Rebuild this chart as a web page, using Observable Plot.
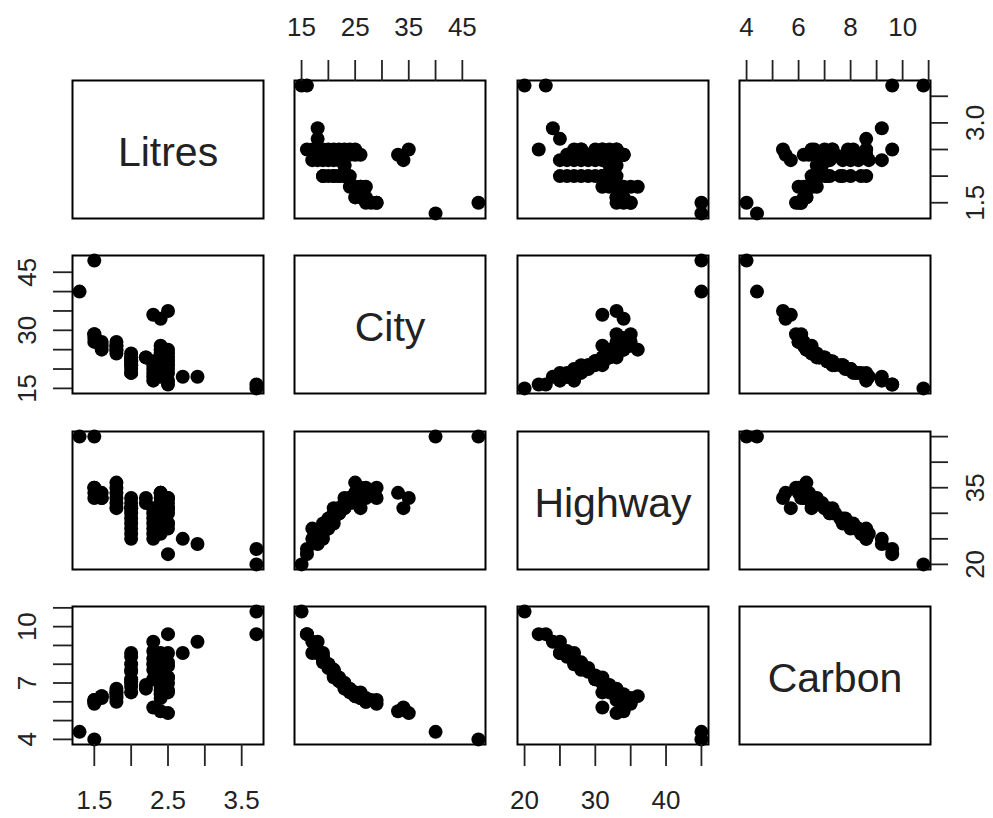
<!DOCTYPE html>
<html><head><meta charset="utf-8">
<script src="https://cdn.jsdelivr.net/npm/d3@7"></script>
<script src="https://cdn.jsdelivr.net/npm/@observablehq/plot@0.6"></script>
<style>
body{margin:0;background:#fff;}
#chart{position:relative;width:993px;height:818px;overflow:hidden;background:#fff;}
#chart svg{position:absolute;}
</style></head><body><div id="chart"></div>
<script>
// ---- data ----
const varNames = ["Litres", "City", "Highway", "Carbon"];
const litres  = [1.3,1.5,1.5,1.5,1.5,1.5,1.6,1.6,1.6,1.8,1.8,1.8,1.8,1.8,1.8,2.0,2.0,2.0,2.0,2.0,2.0,2.0,2.0,2.0,2.0,2.2,2.2,2.3,2.3,2.3,2.3,2.3,2.3,2.4,2.4,2.4,2.4,2.4,2.4,2.4,2.4,2.4,2.5,2.5,2.5,2.5,2.5,2.5,2.5,2.5,2.5,2.7,2.9,3.7,3.7,2.4,2.5,2.3];
const city    = [40,48,29,28,27,29,26,25,27,25,26,27,25,24,26,24,23,23,22,22,21,21,20,19,19,23,23,21,20,19,18,17,34,26,25,23,22,21,20,19,18,33,24,23,22,21,20,19,17,16,35,18,18,15,16,24,25,22];
const highway = [45,45,35,34,35,33,33,34,33,36,35,34,33,32,31,33,32,31,30,31,29,28,27,26,25,33,32,29,28,27,26,25,31,34,34,32,31,30,29,27,26,34,33,31,30,31,28,28,27,22,33,25,24,20,23,33,32,30];
const carbon  = [4.4,4.0,5.9,6.1,6.0,6.1,6.3,6.3,6.2,6.3,6.2,6.0,6.5,6.7,6.5,6.5,6.8,7.0,7.2,7.1,7.6,7.7,8.0,8.4,8.6,6.7,6.9,7.7,8.0,8.3,8.7,9.2,5.7,6.2,6.4,6.8,7.1,7.4,7.8,8.2,8.6,5.5,6.6,7.0,7.3,7.3,7.9,8.1,8.6,9.6,5.4,8.6,9.2,10.8,9.6,6.6,6.5,7.2];

// tick values and the tick labels that are printed
const litresTicks  = [1.5, 2.0, 2.5, 3.0, 3.5];
const cityTicks    = [15, 20, 25, 30, 35, 40, 45];
const highwayTicks = [20, 25, 30, 35, 40, 45];
const carbonTicks  = [4, 5, 6, 7, 8, 9, 10, 11];
const litresLabelsBottom = [1.5, 2.5, 3.5];
const litresLabelsRight  = [1.5, 3.0];
const cityLabelsTop      = [15, 25, 35, 45];
const cityLabelsLeft     = [15, 30, 45];
const highwayLabelsBottom = [20, 30, 40];
const highwayLabelsRight  = [20, 35];
const carbonLabelsTop    = [4, 6, 8, 10];
const carbonLabelsLeft   = [4, 7, 10];

const rows = litres.map((d, i) => ({Litres: d, City: city[i], Highway: highway[i], Carbon: carbon[i]}));
const series = {Litres: litres, City: city, Highway: highway, Carbon: carbon};
const ticks = [litresTicks, cityTicks, highwayTicks, carbonTicks];
const fmts = [d3.format(".1f"), d3.format("d"), d3.format("d"), d3.format("d")];
const labelsH = [litresLabelsBottom, cityLabelsTop, highwayLabelsBottom, carbonLabelsTop];
const labelsV = [litresLabelsRight, cityLabelsLeft, highwayLabelsRight, carbonLabelsLeft];

// R-style domain: range extended by 4% on each side
function domainOf(name) {
  const [a, b] = d3.extent(series[name]);
  const p = (b - a) * 0.04;
  return [a - p, b + p];
}

// ---- layout ----
const colX = [72, 294, 517, 739];
const rowY = [80, 255, 431, 606];
const PW = 191, PH = 138, M = 90;
const FONT = "'Liberation Sans', Arial, Helvetica, sans-serif";
const FS = 26;
const chart = document.getElementById("chart");

for (let i = 0; i < 4; i++) {
  for (let j = 0; j < 4; j++) {
    const xv = varNames[j], yv = varNames[i];
    const marks = [];
    if (i === j) {
      marks.push(Plot.text([yv], {frameAnchor: "middle", text: d => d, fontSize: 41, fill: "#222", dy: 3}));
    } else {
      marks.push(Plot.dot(rows, {x: xv, y: yv, r: 7, fill: "black", stroke: "none"}));
    }
    marks.push(Plot.frame({stroke: "black", strokeWidth: 2}));
    // top axis (row 1, cols 2 & 4)
    if (i === 0 && j % 2 === 1) {
      marks.push(Plot.axisX({anchor: "top", label: null, ticks: ticks[j], tickSize: 21, tickPadding: 24, strokeWidth: 1.8,
        tickFormat: d => labelsH[j].includes(d) ? fmts[j](d) : "", fontSize: FS}));
    }
    // bottom axis (row 4, cols 1 & 3)
    if (i === 3 && j % 2 === 0) {
      marks.push(Plot.axisX({anchor: "bottom", label: null, ticks: ticks[j], tickSize: 22, tickPadding: 24, strokeWidth: 1.8,
        tickFormat: d => labelsH[j].includes(d) ? fmts[j](d) : "", fontSize: FS}));
    }
    // left axis (col 1, rows 2 & 4)
    if (j === 0 && i % 2 === 1) {
      marks.push(Plot.axisY({anchor: "left", label: null, ticks: ticks[i], tickSize: 19, strokeWidth: 1.8, tickFormat: () => ""}));
      marks.push(Plot.text(labelsV[i], {y: d => d, text: d => fmts[i](d), frameAnchor: "left", dx: -37,
        rotate: -90, lineAnchor: "bottom", textAnchor: "middle", fontSize: FS, fill: "#222"}));
    }
    // right axis (col 4, rows 1 & 3)
    if (j === 3 && i % 2 === 0) {
      marks.push(Plot.axisY({anchor: "right", label: null, ticks: ticks[i], tickSize: 17, strokeWidth: 1.8, tickFormat: () => ""}));
      marks.push(Plot.text(labelsV[i], {y: d => d, text: d => fmts[i](d), frameAnchor: "right", dx: 35,
        rotate: -90, lineAnchor: "top", textAnchor: "middle", fontSize: FS, fill: "#222"}));
    }
    const svg = Plot.plot({
      width: PW + 2 * M, height: PH + 2 * M,
      marginTop: M, marginBottom: M, marginLeft: M, marginRight: M,
      x: {domain: domainOf(xv), axis: null, label: null},
      y: {domain: domainOf(yv), axis: null, label: null},
      style: {background: "transparent", overflow: "visible", fontFamily: FONT, fontSize: FS + "px", color: "#222"},
      marks
    });
    svg.style.left = (colX[j] - M) + "px";
    svg.style.top = (rowY[i] - M) + "px";
    svg.style.maxWidth = "none";
    chart.appendChild(svg);
  }
}
</script>
</body></html>
